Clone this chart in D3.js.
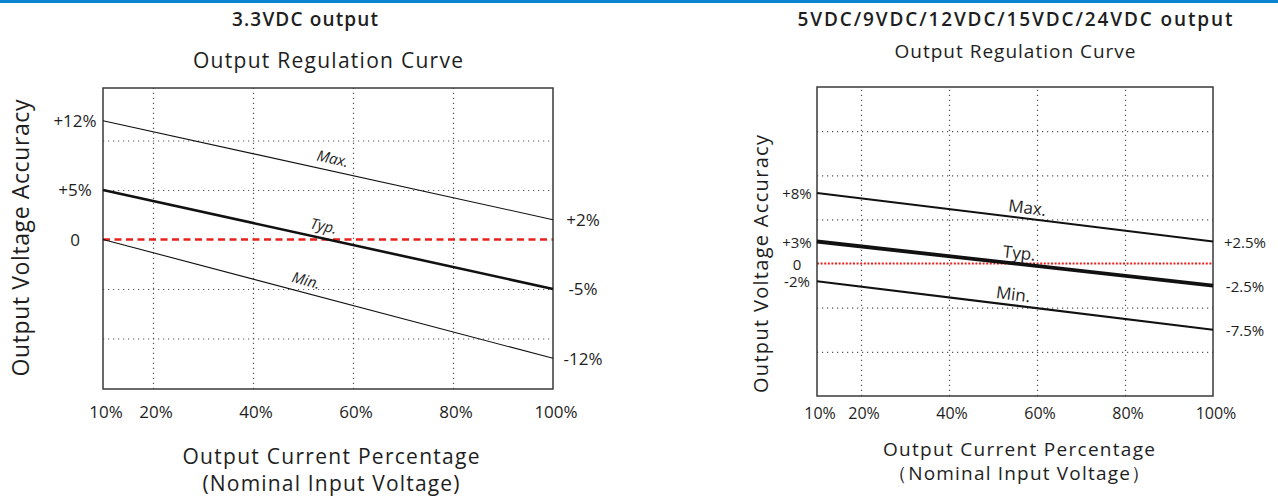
<!DOCTYPE html>
<html>
<head>
<meta charset="utf-8">
<script src="https://cdn.jsdelivr.net/npm/d3@7"></script>
<style>
  body { margin: 0; background: #fff; }
  text { font-family: "Open Sans", "Noto Sans", sans-serif; fill: #1e1e1e; }
</style>
</head>
<body>
<svg id="chart" width="1278" height="497"></svg>
<script>
// shared x values (output current %)
const loadPts = [10, 100];
const xTicks = [10, 20, 40, 60, 80, 100];
const xTickLabels = ["10%", "20%", "40%", "60%", "80%", "100%"];
const seriesNames = ["Max.", "Typ.", "Min."];

// 3.3VDC output
const leftMax = [12, 2];
const leftTyp = [5, -5];
const leftMin = [0, -12];
const leftGridY = [10, 5, -5, -10];
const leftStartTicks = [12, 5, 0];
const leftStartLabels = ["+12%", "+5%", "0"];
const leftEndTicks = [2, -5, -12];
const leftEndLabels = ["+2%", "-5%", "-12%"];

// 5VDC/9VDC/12VDC/15VDC/24VDC output
const rightMax = [8, 2.5];
const rightTyp = [2.5, -2.5];
const rightMin = [-2, -7.5];
const rightGridY = [15, 10, 5, -5, -10];
const rightStartTicks = [8, 2.5, 0, -2];
const rightStartLabels = ["+8%", "+3%", "0", "-2%"];
const rightEndTicks = [2.5, -2.5, -7.5];
const rightEndLabels = ["+2.5%", "-2.5%", "-7.5%"];

const svg = d3.select("#chart");

svg.append("rect")
  .attr("x", 0).attr("y", 0)
  .attr("width", 1278).attr("height", 3)
  .attr("fill", "#0a84cf");

function drawPanel(p) {
  let g = svg.append("g");

  let x = d3.scaleLinear().domain([10, 100]).range([p.left, p.right]);
  let y = d3.scaleLinear().domain(p.yDomain).range([p.bottom, p.top]);

  // dotted grid
  g.append("g")
    .attr("transform", `translate(0, ${p.bottom})`)
    .call(d3.axisBottom(x).tickValues(xTicks.slice(1, -1)).tickSize(-(p.bottom - p.top)).tickFormat(""))
    .call(s => s.select(".domain").remove())
    .selectAll("line")
    .attr("stroke", "#555")
    .attr("stroke-width", 1.2)
    .attr("stroke-dasharray", "1.2,3.8");

  g.append("g")
    .attr("transform", `translate(${p.left}, 0)`)
    .call(d3.axisLeft(y).tickValues(p.gridY).tickSize(-(p.right - p.left)).tickFormat(""))
    .call(s => s.select(".domain").remove())
    .selectAll("line")
    .attr("stroke", "#555")
    .attr("stroke-width", 1.2)
    .attr("stroke-dasharray", "1.2,3.8");

  // zero reference line
  g.append("line")
    .attr("x1", x(10)).attr("x2", x(100))
    .attr("y1", y(0)).attr("y2", y(0))
    .attr("stroke", "#e8201c")
    .attr("stroke-width", p.zeroWidth)
    .attr("stroke-dasharray", p.zeroDash);

  // frame
  g.append("rect")
    .attr("x", p.left).attr("y", p.top)
    .attr("width", p.right - p.left).attr("height", p.bottom - p.top)
    .attr("fill", "none")
    .attr("stroke", "#3a3a3a")
    .attr("stroke-width", 1.5);

  let line = d3.line()
    .x((d, i) => x(loadPts[i]))
    .y(d => y(d));

  let series = [p.max, p.typ, p.min];
  g.selectAll(".curve")
    .data(series)
    .join("path")
    .attr("class", "curve")
    .attr("d", d => line(d))
    .attr("fill", "none")
    .attr("stroke", "#111")
    .attr("stroke-width", (d, i) => i == 1 ? p.typWidth : p.thinWidth);

  // curve names along the lines
  series.forEach(function (d, i) {
    let xv = p.labelAt[i];
    let t = (xv - loadPts[0]) / (loadPts[1] - loadPts[0]);
    let v = d[0] + (d[1] - d[0]) * t;
    let ang = Math.atan2(y(d[1]) - y(d[0]), x(100) - x(10)) * 180 / Math.PI;
    g.append("text")
      .attr("transform", `translate(${x(xv)}, ${y(v)}) rotate(${ang})`)
      .attr("y", -p.labelOffset)
      .attr("text-anchor", "middle")
      .attr("font-size", p.nameSize)
      .attr("font-style", p.nameStyle)
      .text(seriesNames[i]);
  });

  // x tick labels
  g.selectAll(".xlab")
    .data(xTicks)
    .join("text")
    .attr("class", "xlab")
    .attr("x", d => x(d) + 3)
    .attr("y", p.xLabY)
    .attr("dominant-baseline", "central")
    .attr("text-anchor", "middle")
    .attr("font-size", p.tickSize)
    .text((d, i) => xTickLabels[i]);

  // start / end value labels
  g.selectAll(".slab")
    .data(p.startTicks)
    .join("text")
    .attr("class", "slab")
    .attr("x", p.startX)
    .attr("y", d => y(d))
    .attr("dominant-baseline", "central")
    .attr("text-anchor", "middle")
    .attr("font-size", p.sideSize)
    .text((d, i) => p.startLabels[i]);

  g.selectAll(".elab")
    .data(p.endTicks)
    .join("text")
    .attr("class", "elab")
    .attr("x", p.endX)
    .attr("y", d => y(d))
    .attr("dominant-baseline", "central")
    .attr("text-anchor", "middle")
    .attr("font-size", p.sideSize)
    .text((d, i) => p.endLabels[i]);

  // titles
  let cx = (p.left + p.right) / 2;
  g.append("text")
    .attr("x", p.titleX).attr("y", p.titleY)
    .attr("text-anchor", "middle")
    .attr("dominant-baseline", "central")
    .attr("font-size", 19)
    .attr("font-weight", 600)
    .attr("textLength", p.titleLen)
    .text(p.title);

  g.append("text")
    .attr("x", cx).attr("y", p.subY)
    .attr("text-anchor", "middle")
    .attr("dominant-baseline", "central")
    .attr("font-size", p.subSize)
    .attr("textLength", p.subLen)
    .text("Output Regulation Curve");

  g.append("text")
    .attr("transform", `translate(${p.yTitleX}, ${p.yTitleY}) rotate(-90)`)
    .attr("text-anchor", "middle")
    .attr("dominant-baseline", "central")
    .attr("font-size", p.yTitleSize)
    .attr("textLength", p.yTitleLen)
    .text("Output Voltage Accuracy");

  p.xTitles.forEach(function (s, i) {
    g.append("text")
      .attr("x", p.xTitleX).attr("y", p.xTitleY[i])
      .attr("text-anchor", "middle")
      .attr("dominant-baseline", "central")
      .attr("font-size", p.xTitleSize)
      .attr("textLength", p.xTitleLen[i])
      .text(s);
  });
}

drawPanel({
  left: 103, right: 553, top: 88, bottom: 389,
  yDomain: [-15.1, 15.3],
  gridY: leftGridY,
  max: leftMax, typ: leftTyp, min: leftMin,
  thinWidth: 1.1, typWidth: 2.6,
  zeroWidth: 2.6, zeroDash: "7,4.5",
  labelAt: [55.4, 53.6, 50], labelOffset: 7, nameSize: 15, nameStyle: "italic",
  xLabY: 411, tickSize: 17, sideSize: 17,
  startTicks: leftStartTicks, startLabels: leftStartLabels, startX: 75,
  endTicks: leftEndTicks, endLabels: leftEndLabels, endX: 583,
  title: "3.3VDC output", titleX: 305, titleY: 19, titleLen: 146,
  subY: 60, subSize: 21, subLen: 270,
  yTitleX: 20, yTitleY: 238, yTitleSize: 23, yTitleLen: 277,
  xTitles: ["Output Current Percentage", "(Nominal Input Voltage)"],
  xTitleX: 331, xTitleY: [456, 483], xTitleSize: 21, xTitleLen: [297, 257]
});

drawPanel({
  left: 817, right: 1213, top: 87, bottom: 396,
  yDomain: [-15, 20],
  gridY: rightGridY,
  max: rightMax, typ: rightTyp, min: rightMin,
  thinWidth: 2, typWidth: 3.8,
  zeroWidth: 2, zeroDash: "2,1.6",
  labelAt: [57.5, 55.7, 54.3], labelOffset: 5, nameSize: 17, nameStyle: "normal",
  xLabY: 413, tickSize: 16, sideSize: 15,
  startTicks: rightStartTicks, startLabels: rightStartLabels, startX: 797,
  endTicks: rightEndTicks, endLabels: rightEndLabels, endX: 1245,
  title: "5VDC/9VDC/12VDC/15VDC/24VDC output", titleX: 1015, titleY: 19, titleLen: 435,
  subY: 51, subSize: 19, subLen: 241,
  yTitleX: 760, yTitleY: 264, yTitleSize: 20, yTitleLen: 258,
  xTitles: ["Output Current Percentage", "（Nominal Input Voltage）"],
  xTitleX: 1019, xTitleY: [449, 473], xTitleSize: 19, xTitleLen: [272, 262]
});
</script>
</body>
</html>
